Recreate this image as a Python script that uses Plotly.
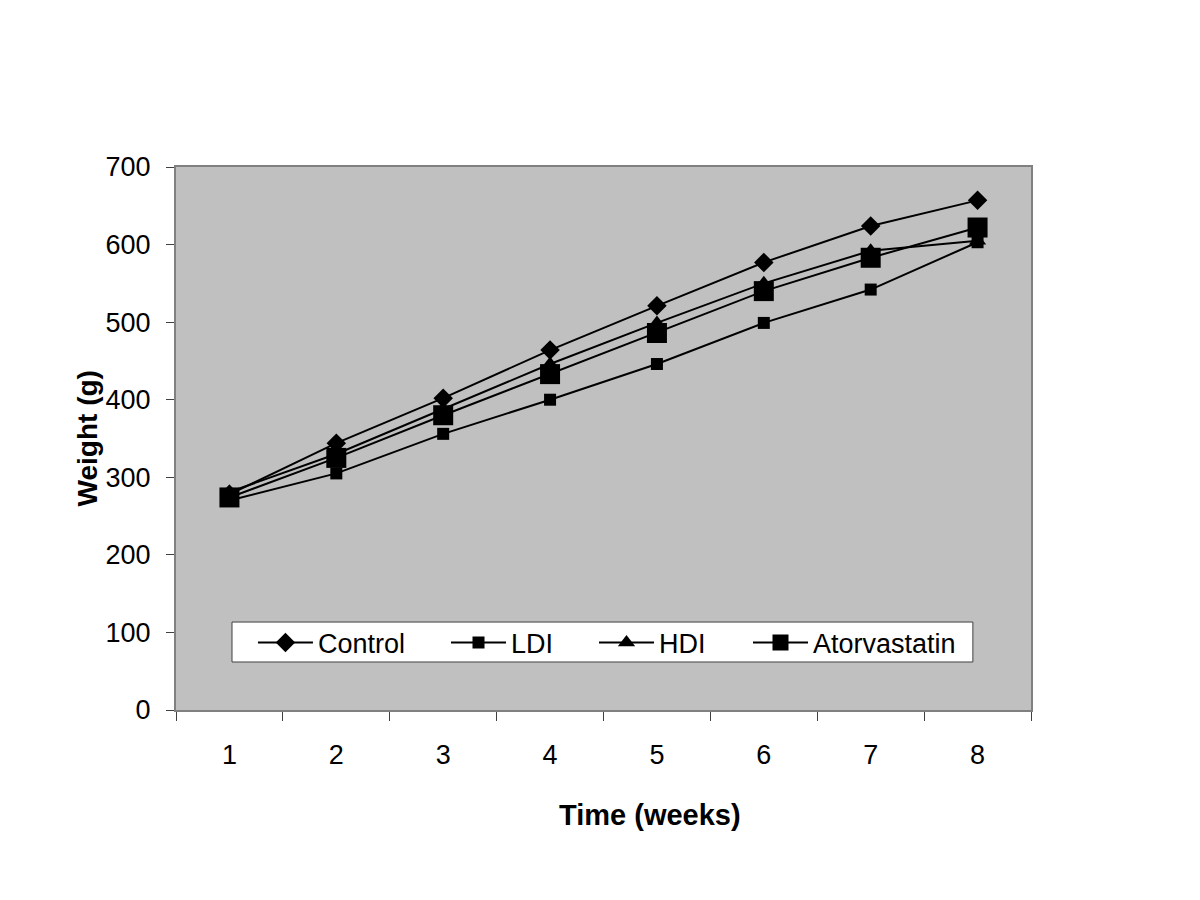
import plotly.graph_objects as go

weeks = ["1", "2", "3", "4", "5", "6", "7", "8"]
control = [278, 344, 402, 464, 521, 577, 624, 657]
ldi = [270, 305, 356, 400, 446, 499, 542, 603]
hdi = [281, 330, 388, 446, 499, 550, 592, 605]
atorvastatin = [274, 325, 380, 433, 486, 540, 583, 622]

series = [
    ("Control", control, "diamond", 15),
    ("LDI", ldi, "square", 12),
    ("HDI", hdi, "triangle-up", 15),
    ("Atorvastatin", atorvastatin, "square", 20),
]
legend_names = ["legend", "legend2", "legend3", "legend4"]
legend_x = [0.090, 0.3158, 0.4889, 0.6690]

font_main = "Liberation Sans, Arial, sans-serif"

fig = go.Figure()
for (name, vals, sym, sz), lg in zip(series, legend_names):
    fig.add_trace(go.Scatter(
        x=weeks, y=vals, name=name, mode="lines+markers",
        line=dict(color="black", width=2),
        marker=dict(symbol=sym, size=sz, color="black", line=dict(width=0)),
        legend=lg,
    ))

legend_common = dict(
    orientation="h", yanchor="middle", xanchor="left", y=0.1234,
    bgcolor="rgba(0,0,0,0)", borderwidth=0,
    font=dict(family=font_main, size=27, color="black"),
    itemwidth=55,
)
legends = {}
for lg, lx in zip(legend_names, legend_x):
    legends[lg] = dict(legend_common, x=lx)

fig.update_layout(
    width=1200, height=900,
    margin=dict(l=168, r=177, t=159, b=198),
    paper_bgcolor="white", plot_bgcolor="#C0C0C0",
    font=dict(family=font_main, size=27, color="black"),
    showlegend=True,
    xaxis=dict(
        type="category", tickson="boundaries", ticks="outside", ticklen=9,
        tickcolor="#404040", showgrid=False, zeroline=False,
        showline=True, linecolor="#808080", linewidth=2, mirror=True,
        ticklabelstandoff=20,
        range=[-0.5, 7.5],
    ),
    yaxis=dict(
        range=[0, 700], tickvals=[0, 100, 200, 300, 400, 500, 600, 700],
        ticks="outside", ticklen=8, tickcolor="#404040",
        showgrid=False, zeroline=False,
        showline=True, linecolor="#808080", linewidth=2, mirror=True,
        ticklabelstandoff=10,
    ),
    shapes=[dict(
        type="rect", xref="paper", yref="paper",
        x0=0.0655, x1=0.932, y0=0.0884, y1=0.162,
        fillcolor="white", line=dict(color="#404040", width=1), layer="above",
    )],
    annotations=[
        dict(text="<b>Time (weeks)</b>", xref="paper", yref="paper",
             x=0.554, y=-0.194, xanchor="center", yanchor="middle",
             showarrow=False, font=dict(family=font_main, size=29)),
        dict(text="<b>Weight (g)</b>", xref="paper", yref="paper",
             x=-0.103, y=0.5, xanchor="center", yanchor="middle", textangle=-90,
             showarrow=False, font=dict(family=font_main, size=28)),
    ],
    **legends,
)

fig.write_html("out.html")
